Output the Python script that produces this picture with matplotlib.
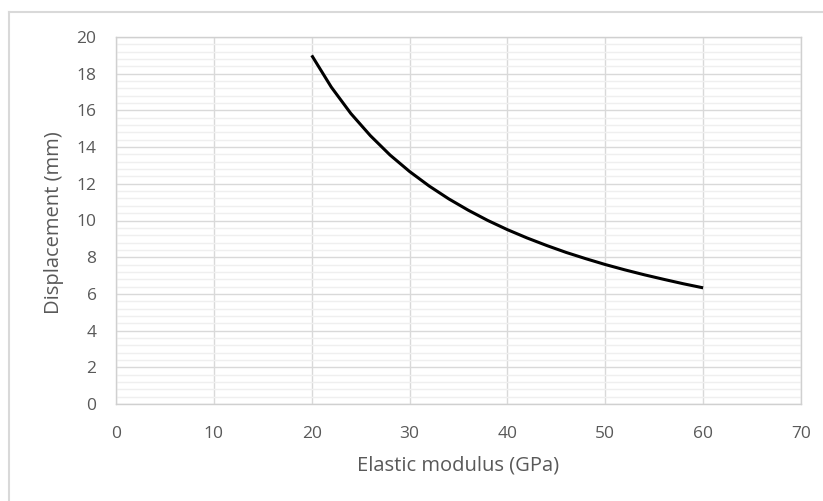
import matplotlib
matplotlib.use('Agg')
import matplotlib.pyplot as plt
from matplotlib.lines import Line2D
from matplotlib.ticker import MultipleLocator

## values
modulus = [20, 22, 24, 26, 28, 30, 32, 34, 36, 38, 40, 42, 44, 46, 48, 50, 52, 54, 56, 58, 60]
displacement = [19.0, 17.27, 15.83, 14.62, 13.57, 12.67, 11.88, 11.18, 10.56, 10.0, 9.5,
                9.05, 8.64, 8.26, 7.92, 7.6, 7.31, 7.04, 6.79, 6.55, 6.33]

grey = '#595959'
plt.rcParams['font.family'] = ['Open Sans', 'DejaVu Sans']

fig = plt.figure(figsize=(8.23, 5.01), dpi=100)
ax = fig.add_axes([116 / 823, 1 - 404 / 501, 685 / 823, 367 / 501])

## outer chart border (only top and left visible in the crop)
fig.add_artist(Line2D([8.5 / 823, 8.5 / 823], [0, 1 - 12 / 501], transform=fig.transFigure, color='#d9d9d9', lw=1.5))
fig.add_artist(Line2D([8.5 / 823, 1], [1 - 12 / 501, 1 - 12 / 501], transform=fig.transFigure, color='#d9d9d9', lw=1.5))

ax.plot(modulus, displacement, color='black', lw=2.2, solid_capstyle='butt', zorder=3)

ax.set_xlim(0, 70)
ax.set_ylim(0, 20)
ax.xaxis.set_major_locator(MultipleLocator(10))
ax.yaxis.set_major_locator(MultipleLocator(2))
ax.yaxis.set_minor_locator(MultipleLocator(0.4))

ax.grid(True, which='major', color='#d9d9d9', lw=1.0)
ax.grid(True, which='minor', axis='y', color='#efefef', lw=1.0)
ax.set_axisbelow(True)

for s in ax.spines.values():
    s.set_color('#d0d0d0')
    s.set_linewidth(1.0)

ax.tick_params(which='both', length=0, colors=grey, labelsize=12.5)
ax.tick_params(axis='x', pad=15.5)
ax.tick_params(axis='y', pad=14)

ax.set_xlabel('Elastic modulus (GPa)', color=grey, fontsize=14.5)
ax.set_ylabel('Displacement (mm)', color=grey, fontsize=14.5)
ax.xaxis.set_label_coords(458 / 823, 1 - 466 / 501, transform=fig.transFigure)
ax.yaxis.set_label_coords(54 / 823, 1 - 223 / 501, transform=fig.transFigure)
ax.xaxis.label.set_va('center')
ax.yaxis.label.set_va('center')

fig.savefig('out.png', dpi=100)
